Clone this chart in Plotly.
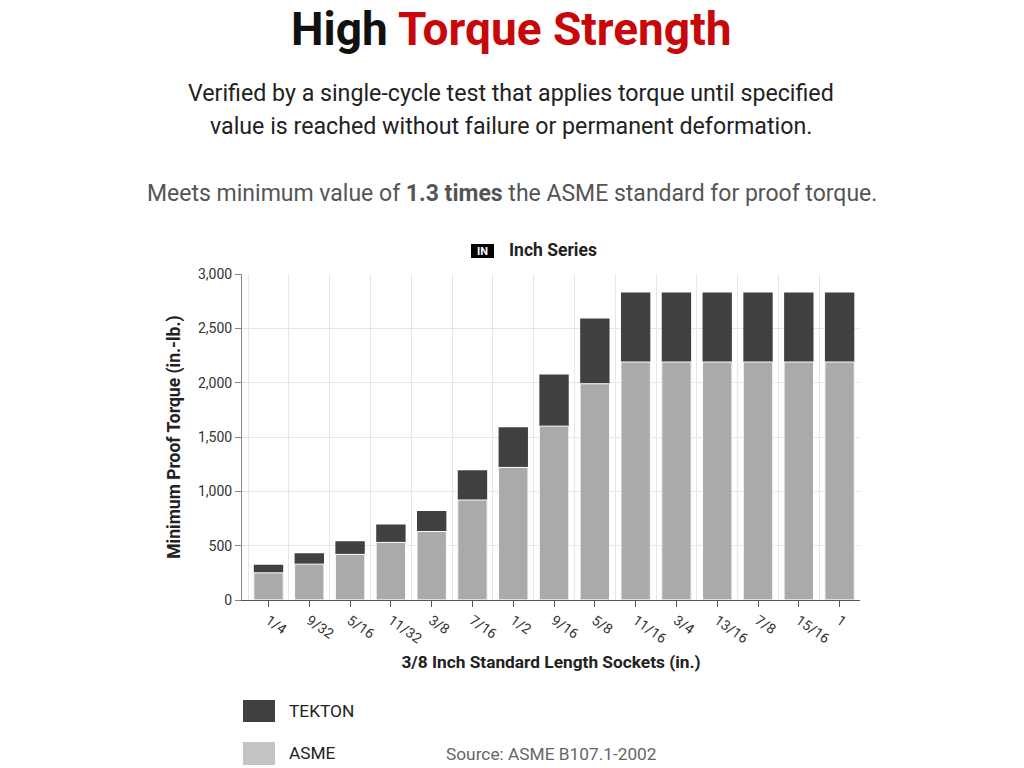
import plotly.graph_objects as go

# socket sizes (in.) and proof torque (in.-lb.)
sizes = ["1/4", "9/32", "5/16", "11/32", "3/8", "7/16", "1/2", "9/16", "5/8",
         "11/16", "3/4", "13/16", "7/8", "15/16", "1"]
asme = [250, 330, 420, 530, 630, 920, 1220, 1600, 1990,
        2190, 2190, 2190, 2190, 2190, 2190]
tekton = [325, 430, 540, 695, 820, 1195, 1590, 2075, 2590,
          2830, 2830, 2830, 2830, 2830, 2830]

DARK = "#404040"
LIGHT = "#aaaaaa"
FONT = "Roboto"

# plot area in page pixels (page has an 8px body margin)
L, R, T, B = 242, 860, 274, 600
W, H = 1016, 760

def px(x):
    return (x - L) / (R - L)

def py(y):
    return (B - y) / (B - T)

fig = go.Figure()
# TEKTON value drawn behind, ASME minimum in front
fig.add_trace(go.Bar(x=sizes, y=tekton, name="TEKTON", width=0.72,
                     marker=dict(color=DARK, line=dict(width=0))))
fig.add_trace(go.Bar(x=sizes, y=asme, name="ASME", width=0.72,
                     marker=dict(color=LIGHT, line=dict(color="white", width=1))))
# invisible trace for boundary gridlines
fig.add_trace(go.Bar(x=sizes, y=[0] * len(sizes), xaxis="x2", showlegend=False,
                     hoverinfo="skip", marker=dict(color="rgba(0,0,0,0)")))

fig.update_layout(
    width=W, height=H,
    barmode="overlay",
    showlegend=False,
    paper_bgcolor="white", plot_bgcolor="white",
    margin=dict(l=L - 8, r=W - (R - 8), t=T - 8, b=H - (B - 8)),
    font=dict(family=FONT, color="#333333"),
    xaxis=dict(
        type="category", categoryorder="array", categoryarray=sizes,
        range=[-0.65, 14.5],
        showgrid=False, showline=True, linecolor="#555555", linewidth=1,
        ticks="outside", ticklen=6, tickcolor="#555555",
        tickangle=35, tickfont=dict(size=14, color="#333333"),
        title=dict(text="<b>3/8 Inch Standard Length Sockets (in.)</b>",
                   font=dict(size=17.3, color="#222222"), standoff=10),
    ),
    xaxis2=dict(
        type="category", categoryorder="array", categoryarray=sizes,
        range=[-0.65, 14.5], overlaying="x", tickson="boundaries",
        showgrid=True, gridcolor="#e6e6e6", gridwidth=1,
        showticklabels=False, ticks="", showline=False, zeroline=False,
    ),
    yaxis=dict(
        range=[0, 3000], tickvals=[0, 500, 1000, 1500, 2000, 2500, 3000],
        tickformat=",", showgrid=True, gridcolor="#e6e6e6",
        showline=True, linecolor="#888888", linewidth=1,
        ticks="outside", ticklen=6, tickcolor="#888888",
        tickfont=dict(size=14, color="#333333"), zeroline=False,
        title=dict(text="<b>Minimum Proof Torque (in.-lb.)</b>",
                   font=dict(size=17.5, color="#222222"), standoff=12),
    ),
)

ann = [
    dict(text="<b>High <span style='color:#c8070a'>Torque Strength</span></b>",
         x=511, y=29, font=dict(size=46, color="#111111")),
    dict(text="Verified by a single-cycle test that applies torque until specified",
         x=511, y=93, font=dict(size=23.2, color="#222222")),
    dict(text="value is reached without failure or permanent deformation.",
         x=511, y=126, font=dict(size=23.2, color="#222222")),
    dict(text="Meets minimum value of <b>1.3 times</b> the ASME standard for proof torque.",
         x=512, y=193, font=dict(size=23, color="#555555")),
    dict(text="<b>IN</b>", x=482.5, y=251, font=dict(size=11, color="white")),
    dict(text="<b>Inch Series</b>", x=553, y=250, font=dict(size=17.5, color="#222222")),
    dict(text="TEKTON", x=287, y=711, xanchor="left", font=dict(size=17.3, color="#222222")),
    dict(text="ASME", x=287, y=753, xanchor="left", font=dict(size=17.3, color="#222222")),
    dict(text="Source: ASME B107.1-2002", x=444, y=754, xanchor="left",
         font=dict(size=17.3, color="#666666")),
]
for a in ann:
    fig.add_annotation(text=a["text"], x=px(a["x"]), y=py(a["y"]),
                       xref="paper", yref="paper", showarrow=False,
                       xanchor=a.get("xanchor", "center"), yanchor="middle",
                       font=dict(family=FONT, **a["font"]))

def box(x0, y0, x1, y1, color):
    fig.add_shape(type="rect", xref="paper", yref="paper",
                  x0=px(x0), x1=px(x1), y0=py(y1), y1=py(y0),
                  fillcolor=color, line=dict(width=0), layer="below")

box(471, 244, 494, 258, "black")
box(243, 700, 275, 722, DARK)
box(243, 742, 275, 765, "#c4c4c4")

fig.write_html("out.html")
